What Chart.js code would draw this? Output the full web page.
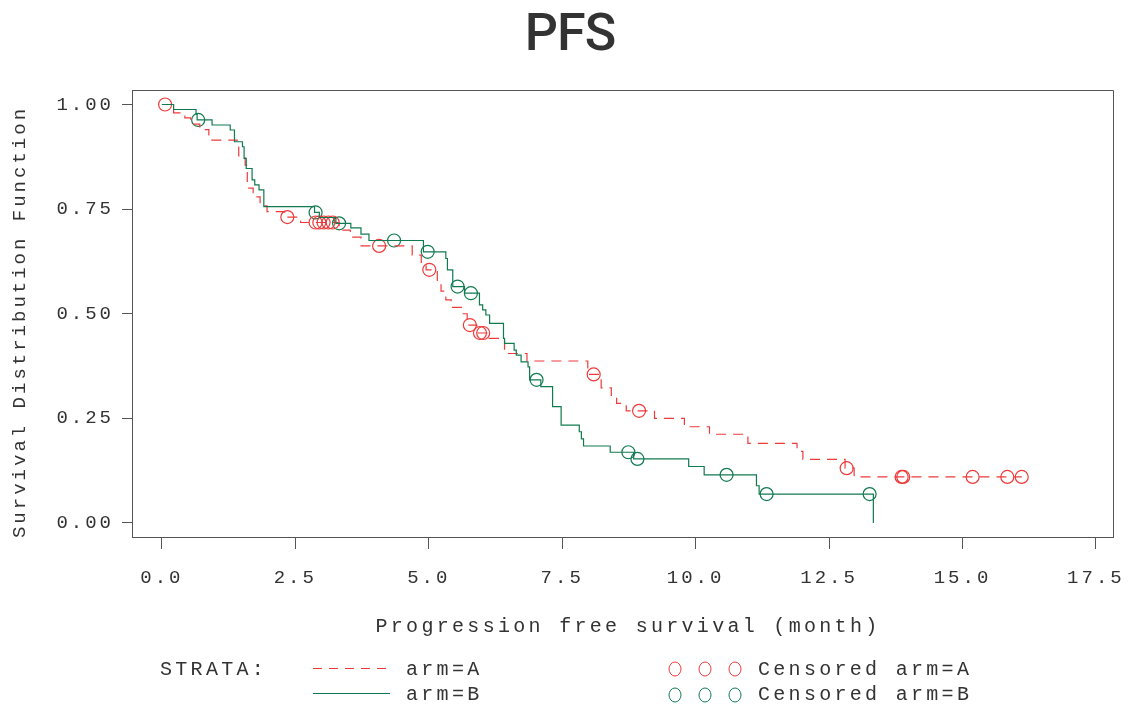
<!DOCTYPE html>
<html>
<head>
<meta charset="utf-8">
<title>PFS</title>
<script src="https://cdn.jsdelivr.net/npm/chart.js@4.4.1/dist/chart.umd.min.js"></script>
<style>
  body { margin: 0; background: #fff; }
  #wrap { width: 1129px; height: 706px; }
</style>
</head>
<body>
<div id="wrap"><canvas id="pfsChart" width="1129" height="706"></canvas></div>
<script>
// Kaplan-Meier steps (time in months, survival after the drop)
const armATime = [0, 0.22, 0.43, 0.54, 0.71, 0.88, 1.41, 1.44, 1.56, 1.60, 1.71, 1.84, 1.97, 2.30, 2.60,
    3.32, 3.53, 3.73, 4.69, 4.86, 4.95, 5.16, 5.23, 5.32, 5.42, 5.63, 5.72, 5.90, 6.13, 6.42, 6.84,
    7.98, 8.23, 8.42, 8.52, 8.70, 9.23, 9.79, 10.26, 10.98, 11.90, 12.01, 12.80, 12.97, 16.11];
const armASurv = [1.0, 0.980, 0.968, 0.953, 0.940, 0.915, 0.900, 0.877, 0.855, 0.800, 0.779, 0.758, 0.744, 0.731, 0.718,
    0.700, 0.683, 0.662, 0.640, 0.620, 0.605, 0.577, 0.554, 0.533, 0.515, 0.500, 0.473, 0.454, 0.441, 0.405, 0.387,
    0.355, 0.323, 0.305, 0.286, 0.268, 0.250, 0.230, 0.212, 0.190, 0.171, 0.152, 0.131, 0.110, 0.110];

const armBTime = [0, 0.22, 0.64, 0.66, 0.94, 1.28, 1.36, 1.51, 1.54, 1.58, 1.69, 1.74, 1.82, 1.91, 2.86, 2.95,
    3.26, 3.54, 3.73, 3.88, 4.90, 5.32, 5.35, 5.45, 5.67, 5.95, 6.01, 6.07, 6.14, 6.40, 6.42, 6.60, 6.64,
    6.73, 6.86, 6.89, 7.10, 7.32, 7.48, 7.82, 7.86, 7.90, 8.40, 8.84, 9.87, 10.16, 11.14, 11.19, 13.33];
const armBSurv = [1.0, 0.988, 0.977, 0.963, 0.951, 0.939, 0.911, 0.899, 0.871, 0.847, 0.820, 0.808, 0.796, 0.756, 0.742, 0.730,
    0.716, 0.705, 0.690, 0.675, 0.648, 0.632, 0.605, 0.565, 0.549, 0.521, 0.509, 0.497, 0.477, 0.441, 0.429, 0.413, 0.401,
    0.385, 0.373, 0.342, 0.326, 0.278, 0.234, 0.218, 0.201, 0.184, 0.169, 0.153, 0.135, 0.115, 0.089, 0.069, 0.0];

// censored observations
const censATime = [0.06, 2.35, 2.88, 2.95, 3.03, 3.12, 3.20, 4.07, 5.01, 5.77, 5.96, 6.02, 8.09, 8.94, 12.83, 13.86, 13.89, 15.19, 15.84, 16.11];
const censASurv = [1.0, 0.731, 0.718, 0.718, 0.718, 0.718, 0.718, 0.662, 0.605, 0.473, 0.454, 0.454, 0.355, 0.268, 0.131, 0.110, 0.110, 0.110, 0.110, 0.110];
const censBTime = [0.68, 2.88, 3.32, 4.35, 4.98, 5.54, 5.79, 7.02, 8.74, 8.91, 10.58, 11.33, 13.26];
const censBSurv = [0.963, 0.742, 0.716, 0.675, 0.648, 0.565, 0.549, 0.342, 0.169, 0.153, 0.115, 0.069, 0.069];

const xTicks = [0, 2.5, 5, 7.5, 10, 12.5, 15, 17.5];
const yTicks = [0, 0.25, 0.5, 0.75, 1.0];

const redColor = "#ee3a3a";
const greenColor = "#107a50";
const textColor = "#333";
const monoFont = "'Liberation Mono', 'DejaVu Sans Mono', monospace";

function toPoints(xs, ys) {
    return xs.map((x, i) => ({ x: x, y: ys[i] }));
}

// title, axis titles, frame and the SAS-like legend
const decorPlugin = {
    id: "decor",
    beforeDraw(chart) {
        chart.ctx.letterSpacing = "3px";
    },
    afterDraw(chart) {
        const ctx = chart.ctx;
        const area = chart.chartArea;
        ctx.save();

        // top and right side of the frame
        ctx.strokeStyle = "#555";
        ctx.lineWidth = 1;
        ctx.beginPath();
        ctx.moveTo(Math.round(area.left) + 0.5, Math.round(area.top) + 0.5);
        ctx.lineTo(Math.round(area.right) + 0.5, Math.round(area.top) + 0.5);
        ctx.lineTo(Math.round(area.right) + 0.5, Math.round(area.bottom) + 0.5);
        ctx.stroke();

        // main title
        ctx.letterSpacing = "-1px";
        ctx.fillStyle = textColor;
        ctx.font = "500 52px Roboto";
        ctx.textAlign = "center";
        ctx.textBaseline = "alphabetic";
        ctx.fillText("PFS", 570, 50);

        // y axis title
        ctx.letterSpacing = "3px";
        ctx.font = "19px " + monoFont;
        ctx.textBaseline = "middle";
        ctx.save();
        ctx.translate(20, 322);
        ctx.rotate(-Math.PI / 2);
        ctx.fillText("Survival Distribution Function", 0, 0);
        ctx.restore();

        // x axis title
        ctx.letterSpacing = "3.3px";
        ctx.font = "20px " + monoFont;
        ctx.fillText("Progression free survival (month)", 628, 627);

        // legend
        ctx.textAlign = "left";
        ctx.fillText("STRATA:", 160, 670);
        ctx.fillText("arm=A", 406, 670);
        ctx.fillText("arm=B", 406, 695);
        ctx.fillText("Censored arm=A", 758, 670);
        ctx.fillText("Censored arm=B", 758, 695);

        ctx.lineWidth = 1;
        ctx.strokeStyle = redColor;
        ctx.setLineDash([9, 7]);
        ctx.beginPath();
        ctx.moveTo(313, 668.5);
        ctx.lineTo(390, 668.5);
        ctx.stroke();
        ctx.setLineDash([]);
        ctx.strokeStyle = greenColor;
        ctx.beginPath();
        ctx.moveTo(313, 693.5);
        ctx.lineTo(390, 693.5);
        ctx.stroke();

        [675, 705, 735].forEach(cx => {
            ctx.strokeStyle = redColor;
            ctx.beginPath();
            ctx.ellipse(cx, 669, 6, 7, 0, 0, Math.PI * 2);
            ctx.stroke();
            ctx.strokeStyle = greenColor;
            ctx.beginPath();
            ctx.ellipse(cx, 695, 6, 7, 0, 0, Math.PI * 2);
            ctx.stroke();
        });

        ctx.restore();
    }
};

const ctx = document.getElementById("pfsChart").getContext("2d");
new Chart(ctx, {
    type: "scatter",
    data: {
        datasets: [
            {
                label: "arm=B",
                data: toPoints(armBTime, armBSurv),
                showLine: true,
                stepped: "before",
                borderColor: greenColor,
                borderWidth: 1.2,
                pointRadius: 0,
                fill: false
            },
            {
                label: "arm=A",
                data: toPoints(armATime, armASurv),
                showLine: true,
                stepped: "before",
                borderColor: redColor,
                borderWidth: 1.2,
                borderDash: [10, 7],
                pointRadius: 0,
                fill: false
            },
            {
                label: "Censored arm=A",
                data: toPoints(censATime, censASurv),
                showLine: false,
                pointStyle: "circle",
                pointRadius: 6.5,
                pointBorderWidth: 1.2,
                pointBorderColor: redColor,
                pointBackgroundColor: "rgba(0,0,0,0)"
            },
            {
                label: "Censored arm=B",
                data: toPoints(censBTime, censBSurv),
                showLine: false,
                pointStyle: "circle",
                pointRadius: 6.5,
                pointBorderWidth: 1.2,
                pointBorderColor: greenColor,
                pointBackgroundColor: "rgba(0,0,0,0)"
            }
        ]
    },
    options: {
        responsive: false,
        animation: false,
        layout: { padding: { top: 90, right: 16, left: 0, bottom: 0 } },
        plugins: {
            legend: { display: false },
            title: { display: false },
            tooltip: { enabled: false }
        },
        scales: {
            x: {
                type: "linear",
                min: -0.56,
                max: 17.82,
                afterFit: (scale) => {
                    scale.height = 169;
                    scale.paddingLeft = 0;
                    scale.paddingRight = 0;
                },
                afterBuildTicks: (scale) => { scale.ticks = xTicks.map(v => ({ value: v })); },
                grid: { drawOnChartArea: false, drawTicks: true, tickLength: 12, color: "#555" },
                border: { color: "#555", width: 1 },
                ticks: {
                    font: { family: monoFont, size: 19 },
                    color: textColor,
                    padding: 18,
                    maxRotation: 0,
                    autoSkip: false,
                    callback: (v) => v.toFixed(1)
                }
            },
            y: {
                type: "linear",
                min: -0.0335,
                max: 1.0346,
                afterFit: (scale) => {
                    scale.width = 132;
                    scale.paddingTop = 0;
                    scale.paddingBottom = 0;
                },
                afterBuildTicks: (scale) => { scale.ticks = yTicks.map(v => ({ value: v })); },
                grid: { drawOnChartArea: false, drawTicks: true, tickLength: 10, color: "#555" },
                border: { color: "#555", width: 1 },
                ticks: {
                    font: { family: monoFont, size: 19 },
                    color: textColor,
                    padding: 8,
                    callback: (v) => v.toFixed(2)
                }
            }
        }
    },
    plugins: [decorPlugin]
});
</script>
</body>
</html>
